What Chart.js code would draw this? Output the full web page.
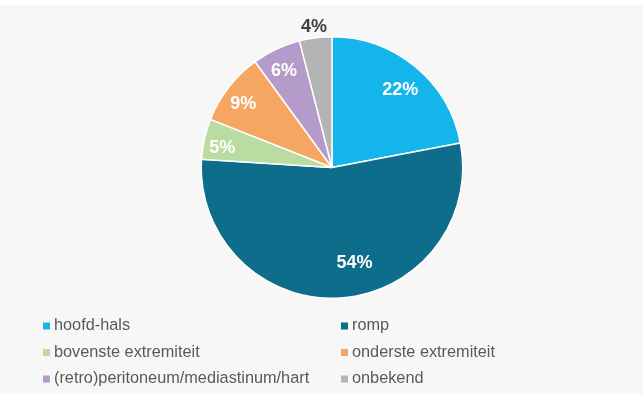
<!DOCTYPE html>
<html>
<head>
<meta charset="utf-8">
<script src="https://cdn.jsdelivr.net/npm/chart.js@4/dist/chart.umd.min.js"></script>
<style>
  html, body { margin: 0; padding: 0; background: #ffffff; }
  #wrap { position: absolute; left: 0; top: 0; width: 643px; height: 394px; }
</style>
</head>
<body>
<div id="wrap"><canvas id="c" width="643" height="394"></canvas></div>
<script>
const categories = ['hoofd-hals', 'romp', 'bovenste extremiteit', 'onderste extremiteit', '(retro)peritoneum/mediastinum/hart', 'onbekend'];
const percentages = [22, 54, 5, 9, 6, 4];
const sliceColors = ['#13b5ea', '#0f6d8c', '#badca0', '#f6a663', '#b49bca', '#b2b4b5'];

const bgPlugin = {
  id: 'bg',
  beforeDraw(chart) {
    const ctx = chart.ctx;
    ctx.save();
    ctx.fillStyle = '#ffffff';
    ctx.fillRect(0, 0, chart.width, chart.height);
    ctx.fillStyle = '#f7f7f7';
    ctx.fillRect(0, 5, chart.width, chart.height - 5);
    ctx.restore();
  }
};

// label placement: radius factor (or outside offset) and angle shift in degrees
const labelPlacement = [
  { f: 0.795, d: 1.5 },
  { f: 0.745, d: -9.8 },
  { f: 0.853, d: -2.2 },
  { f: 0.84, d: -1.6 },
  { f: 0.833, d: -1.0 },
  { out: 12, d: 0 }
];

const labelPlugin = {
  id: 'sliceLabels',
  afterDatasetsDraw(chart) {
    const ctx = chart.ctx;
    const meta = chart.getDatasetMeta(0);
    ctx.save();
    ctx.font = 'bold 18px "Liberation Sans", Arial, sans-serif';
    ctx.textAlign = 'center';
    ctx.textBaseline = 'middle';
    meta.data.forEach((arc, i) => {
      const p = arc.getProps(['x', 'y', 'startAngle', 'endAngle', 'outerRadius'], true);
      const pl = labelPlacement[i];
      const mid = (p.startAngle + p.endAngle) / 2 + pl.d * Math.PI / 180;
      const outside = pl.out !== undefined;
      const r = outside ? p.outerRadius + pl.out : p.outerRadius * pl.f;
      const x = p.x + Math.cos(mid) * r;
      const y = p.y + Math.sin(mid) * r;
      ctx.fillStyle = outside ? '#404040' : '#ffffff';
      ctx.fillText(percentages[i] + '%', x, y + 1);
    });
    ctx.restore();
  }
};

const legendPlugin = {
  id: 'gridLegend',
  afterDraw(chart) {
    const ctx = chart.ctx;
    ctx.save();
    ctx.font = '16.3px "Liberation Sans", Arial, sans-serif';
    ctx.textBaseline = 'middle';
    ctx.textAlign = 'left';
    const colX = [43, 341];
    const rowY = [326, 352.5, 379];
    categories.forEach((name, i) => {
      const cx = colX[i % 2];
      const cy = rowY[Math.floor(i / 2)];
      ctx.fillStyle = sliceColors[i];
      ctx.fillRect(cx, cy - 3.5, 7, 7);
      ctx.fillStyle = '#595959';
      ctx.fillText(name, cx + 11, cy);
    });
    ctx.restore();
  }
};

new Chart(document.getElementById('c'), {
  type: 'pie',
  data: {
    labels: categories,
    datasets: [{
      data: percentages,
      backgroundColor: sliceColors,
      borderColor: '#ffffff',
      borderWidth: 1.5
    }]
  },
  options: {
    responsive: false,
    animation: false,
    layout: { padding: { top: 36, bottom: 95, left: 21, right: 0 } },
    plugins: {
      legend: { display: false },
      tooltip: { enabled: false }
    }
  },
  plugins: [bgPlugin, labelPlugin, legendPlugin]
});
</script>
</body>
</html>
